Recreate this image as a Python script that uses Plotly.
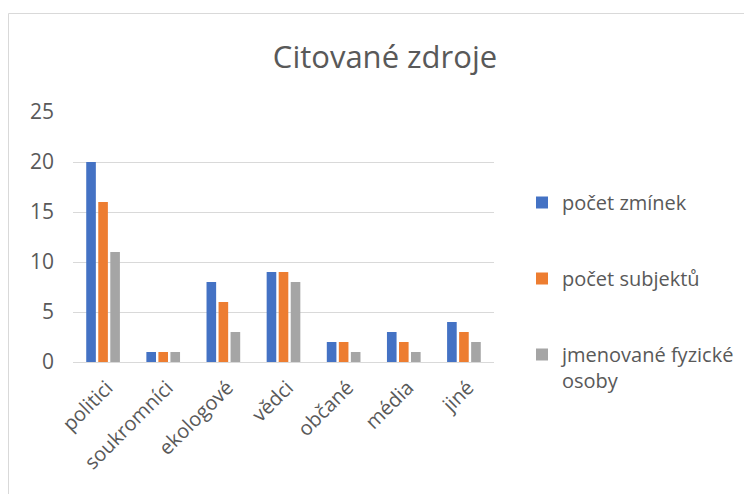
import plotly.graph_objects as go

categories = ["politici", "soukromníci", "ekologové", "vědci", "občané", "média", "jiné"]
pocet_zminek = [20, 1, 8, 9, 2, 3, 4]
pocet_subjektu = [16, 1, 6, 9, 2, 2, 3]
jmenovane_osoby = [11, 1, 3, 8, 1, 1, 2]
series_names = ["počet zmínek", "počet subjektů", "jmenované fyzické<br>osoby"]
colors = ["#4472C4", "#ED7D31", "#A5A5A5"]
y_ticks = [0, 5, 10, 15, 20, 25]

FONT = "Open Sans"
TXT = "#595959"

W, H = 744, 486
L, R, T, B = 65, 486, 104, 354  # plot area in figure px

fig = go.Figure()
for i, (name, vals) in enumerate(zip(series_names, [pocet_zminek, pocet_subjektu, jmenovane_osoby])):
    fig.add_trace(go.Bar(x=categories, y=vals, name=name, marker_color=colors[i],
                         marker_line_width=0, legendgroup=f"g{i}"))

fig.update_layout(
    width=W, height=H,
    margin=dict(l=L, r=W - R, t=T, b=H - B, autoexpand=False),
    paper_bgcolor="white", plot_bgcolor="white",
    barmode="group", bargap=0.4, bargroupgap=0.2,
    title=dict(text="Citované zdroje", x=377 / W, xanchor="center",
               y=1 - 49 / H, yanchor="middle",
               font=dict(family=FONT, size=31, color=TXT)),
    font=dict(family=FONT, color=TXT),
    xaxis=dict(tickangle=-45, tickfont=dict(size=20, color=TXT), showline=True,
               linecolor="#D9D9D9", linewidth=1, ticks="", showgrid=False, automargin=False,
               ticklabelstandoff=5, ticklabelshift=4),
    yaxis=dict(range=[0, 25], tickvals=y_ticks, tickfont=dict(size=21, color=TXT),
               showgrid=True, gridcolor="#D9D9D9", gridwidth=1, zeroline=False,
               showline=False, ticks="", ticklabelstandoff=18, automargin=False),
    legend=dict(x=(514 - L) / (R - L), xanchor="left", y=(B - 175) / (B - T), yanchor="top",
                font=dict(size=20, color=TXT), tracegroupgap=47, valign="top",
                itemwidth=30, bgcolor="rgba(0,0,0,0)"),
    shapes=[dict(type="rect", xref="paper", yref="paper",
                 x0=(0.5 - L) / (R - L), x1=2.0, y0=-2.0, y1=(B - 5.5) / (B - T),
                 line=dict(color="#D9D9D9", width=1), fillcolor="rgba(0,0,0,0)", layer="below")],
)

fig.write_html("out.html")
